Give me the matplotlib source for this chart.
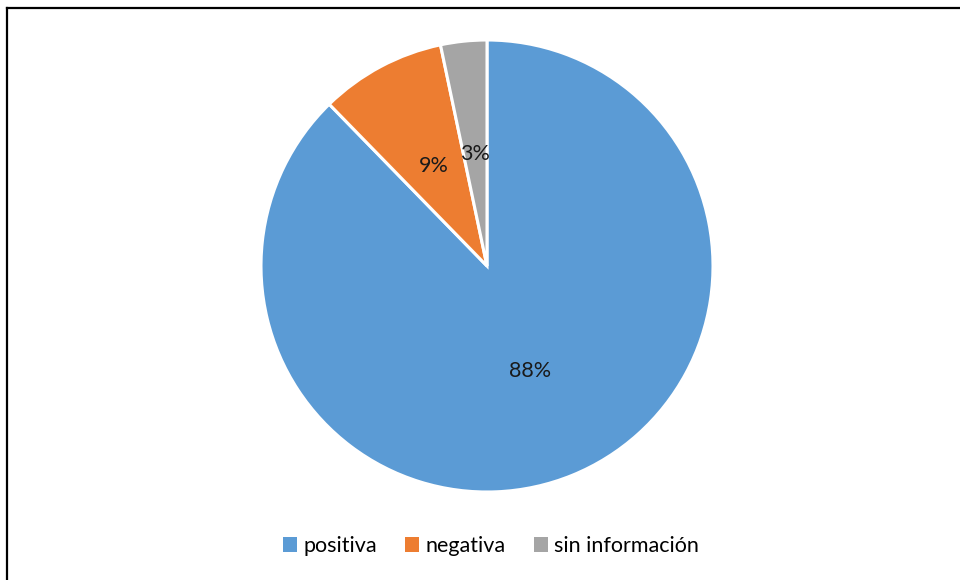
import matplotlib
matplotlib.use('Agg')
import matplotlib.pyplot as plt
from matplotlib.lines import Line2D
from matplotlib.patches import Patch

# data (shares)
labels = ['positiva', 'negativa', 'sin información']
values = [87.7, 9.0, 3.3]
colors = ['#5B9BD5', '#ED7D31', '#A5A5A5']

plt.rcParams['font.family'] = ['Lato', 'DejaVu Sans']

fig = plt.figure(figsize=(9.6, 5.8), dpi=100)
ax = fig.add_axes([261 / 960, 88 / 580, 452 / 960, 452 / 580])

wedges, texts, autotexts = ax.pie(
    values, colors=colors, startangle=90, counterclock=False,
    autopct='%1.0f%%', pctdistance=0.5,
    wedgeprops=dict(edgecolor='white', linewidth=2.2),
    textprops=dict(fontsize=15.5, color='#1a1a1a'))
ax.set_xlim(-1, 1)
ax.set_ylim(-1, 1)
ax.set_aspect('equal')

# legend at the bottom
handles = [Patch(facecolor=c, edgecolor='none') for c in colors]
fig.legend(handles, labels, loc='center', bbox_to_anchor=(491 / 960, 1 - 546 / 580),
           ncol=3, frameon=False, fontsize=15.5, handlelength=0.65, handleheight=0.65,
           handletextpad=0.3, columnspacing=1.3)

# border on the left and top
fig.add_artist(Line2D([6.5 / 960, 6.5 / 960], [0, 1 - 7.5 / 580], color='black',
                      linewidth=1.6, transform=fig.transFigure))
fig.add_artist(Line2D([6.5 / 960, 1], [1 - 7.5 / 580, 1 - 7.5 / 580], color='black',
                      linewidth=1.6, transform=fig.transFigure))

fig.savefig('out.png', dpi=100)
